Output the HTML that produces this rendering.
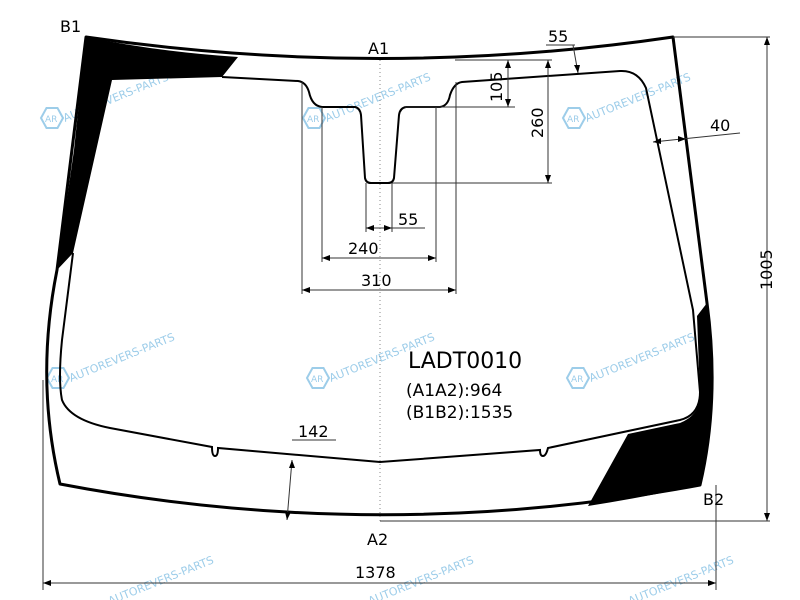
<!DOCTYPE html>
<html><head><meta charset="utf-8"><style>
html,body{margin:0;padding:0;background:#fff}
svg{display:block}
text{font-family:"DejaVu Sans","Liberation Sans",sans-serif;fill:#000}
.wm{fill:#8cc4e6;font-size:11px}
.ar{fill:#8cc4e6;font-size:9px}
</style></head><body>
<svg width="800" height="600" viewBox="0 0 800 600" xmlns="http://www.w3.org/2000/svg">
<!-- watermarks -->
<g opacity="0.85">
<g transform="translate(52,118)"><polygon points="-11,0 -5.5,-10 5.5,-10 11,0 5.5,10 -5.5,10" fill="none" stroke="#8cc4e6" stroke-width="2"/><text class="ar" x="-7" y="4">AR</text><text class="wm" x="13" y="4" transform="rotate(-22 13 4)">AUTOREVERS-PARTS</text></g>
<g transform="translate(314,118)"><polygon points="-11,0 -5.5,-10 5.5,-10 11,0 5.5,10 -5.5,10" fill="none" stroke="#8cc4e6" stroke-width="2"/><text class="ar" x="-7" y="4">AR</text><text class="wm" x="13" y="4" transform="rotate(-22 13 4)">AUTOREVERS-PARTS</text></g>
<g transform="translate(574,118)"><polygon points="-11,0 -5.5,-10 5.5,-10 11,0 5.5,10 -5.5,10" fill="none" stroke="#8cc4e6" stroke-width="2"/><text class="ar" x="-7" y="4">AR</text><text class="wm" x="13" y="4" transform="rotate(-22 13 4)">AUTOREVERS-PARTS</text></g>
<g transform="translate(58,378)"><polygon points="-11,0 -5.5,-10 5.5,-10 11,0 5.5,10 -5.5,10" fill="none" stroke="#8cc4e6" stroke-width="2"/><text class="ar" x="-7" y="4">AR</text><text class="wm" x="13" y="4" transform="rotate(-22 13 4)">AUTOREVERS-PARTS</text></g>
<g transform="translate(318,378)"><polygon points="-11,0 -5.5,-10 5.5,-10 11,0 5.5,10 -5.5,10" fill="none" stroke="#8cc4e6" stroke-width="2"/><text class="ar" x="-7" y="4">AR</text><text class="wm" x="13" y="4" transform="rotate(-22 13 4)">AUTOREVERS-PARTS</text></g>
<g transform="translate(578,378)"><polygon points="-11,0 -5.5,-10 5.5,-10 11,0 5.5,10 -5.5,10" fill="none" stroke="#8cc4e6" stroke-width="2"/><text class="ar" x="-7" y="4">AR</text><text class="wm" x="13" y="4" transform="rotate(-22 13 4)">AUTOREVERS-PARTS</text></g>
<text class="wm" x="110" y="605" transform="rotate(-22 110 605)">AUTOREVERS-PARTS</text>
<text class="wm" x="370" y="605" transform="rotate(-22 370 605)">AUTOREVERS-PARTS</text>
<text class="wm" x="630" y="605" transform="rotate(-22 630 605)">AUTOREVERS-PARTS</text>
</g>

<!-- black bands -->
<path d="M86,37 Q160,52 238,57 L222,77 L112,80 L73,253 L57,270 L74,150 Z" fill="#000"/>
<path d="M707,303 Q720,400 700,485 Q640,498 588,506 L628,434 L680,423 Q700,415 700,395 L697,316 Z" fill="#000"/>

<!-- outer outline -->
<path d="M86,37 Q380,80 673,37 L707,303 Q720,400 700,485 Q380,545 60,484 Q35,380 57,270 Z" fill="none" stroke="#000" stroke-width="3" stroke-linejoin="round"/>

<!-- inner outline -->
<path d="M222,77 L298,81 Q306,82 309,92 Q312,106 322,107 L355,107 Q360,108 361,115 L365,178 Q366,183 371,183 L388,183 Q393,183 394,178 L399,115 Q400,108 406,107 L440,107 Q448,106 450,95 Q454,83 462,82 L620,71 Q638,70 646,88 L693,310 L700,392 Q700,415 680,420 L548,448 Q546,456 543,456 Q540,456 540,450 L380,462 L218,448 Q218,456 215,456 Q212,456 212,447 L110,428 Q70,420 62,400 Q58,380 62,340 L73,253" fill="none" stroke="#000" stroke-width="2"/>

<!-- center line -->
<line x1="380" y1="60" x2="380" y2="522" stroke="#888" stroke-width="1" stroke-dasharray="1,3"/>

<g stroke="#333" stroke-width="1" fill="none">
<line x1="43" y1="380" x2="43" y2="590"/>
<line x1="716" y1="485" x2="716" y2="590"/>
<line x1="43" y1="583" x2="716" y2="583"/>
<line x1="673" y1="37" x2="770" y2="37"/>
<line x1="380" y1="521" x2="770" y2="521"/>
<line x1="767" y1="37" x2="767" y2="521"/>
<line x1="455" y1="60" x2="552" y2="60"/>
<line x1="405" y1="107" x2="515" y2="107"/>
<line x1="392" y1="183" x2="552" y2="183"/>
<line x1="508" y1="60" x2="508" y2="107"/>
<line x1="548" y1="60" x2="548" y2="183"/>
<line x1="366" y1="183" x2="366" y2="232"/>
<line x1="392" y1="183" x2="392" y2="232"/>
<line x1="366" y1="228" x2="425" y2="228"/>
<line x1="322" y1="107" x2="322" y2="262"/>
<line x1="436" y1="107" x2="436" y2="262"/>
<line x1="322" y1="258" x2="436" y2="258"/>
<line x1="302" y1="82" x2="302" y2="294"/>
<line x1="456" y1="82" x2="456" y2="294"/>
<line x1="302" y1="290" x2="456" y2="290"/>
<line x1="292" y1="460" x2="287" y2="520"/>
<line x1="292" y1="440" x2="336" y2="440"/>
<line x1="653" y1="142" x2="740" y2="133"/>
<line x1="546" y1="45" x2="575" y2="45"/>
<line x1="573" y1="45" x2="578" y2="73"/>
</g>
<g fill="#000">
<polygon points="43,583 51,580 51,586"/><polygon points="716,583 708,580 708,586"/>
<polygon points="767,37 764,45 770,45"/><polygon points="767,521 764,513 770,513"/>
<polygon points="508,60 505,68 511,68"/><polygon points="508,107 505,99 511,99"/>
<polygon points="548,60 545,68 551,68"/><polygon points="548,183 545,175 551,175"/>
<polygon points="366,228 374,225 374,231"/><polygon points="392,228 384,225 384,231"/>
<polygon points="322,258 330,255 330,261"/><polygon points="436,258 428,255 428,261"/>
<polygon points="302,290 310,287 310,293"/><polygon points="456,290 448,287 448,293"/>
<polygon points="292,460 289,468 295,468"/><polygon points="287,520 285,512 291,512"/>
<polygon points="653,142 661,138 661,144"/><polygon points="686,139 678,136 678,142"/>
<polygon points="578,73 574,65 580,65"/>
</g>

<g font-size="16">
<text x="60" y="32">B1</text>
<text x="368" y="54">A1</text>
<text x="367" y="545">A2</text>
<text x="703" y="505">B2</text>
<text x="548" y="42">55</text>
<text x="710" y="131">40</text>
<text x="398" y="225">55</text>
<text x="348" y="254">240</text>
<text x="361" y="286">310</text>
<text x="298" y="437">142</text>
<text x="355" y="578">1378</text>
<text transform="translate(502,102) rotate(-90)">105</text>
<text transform="translate(543,138) rotate(-90)">260</text>
<text transform="translate(772,290) rotate(-90)">1005</text>
</g>
<text x="408" y="368" font-size="22">LADT0010</text>
<text x="406" y="396" font-size="17">(A1A2):964</text>
<text x="406" y="418" font-size="17">(B1B2):1535</text>
</svg>
</body></html>
